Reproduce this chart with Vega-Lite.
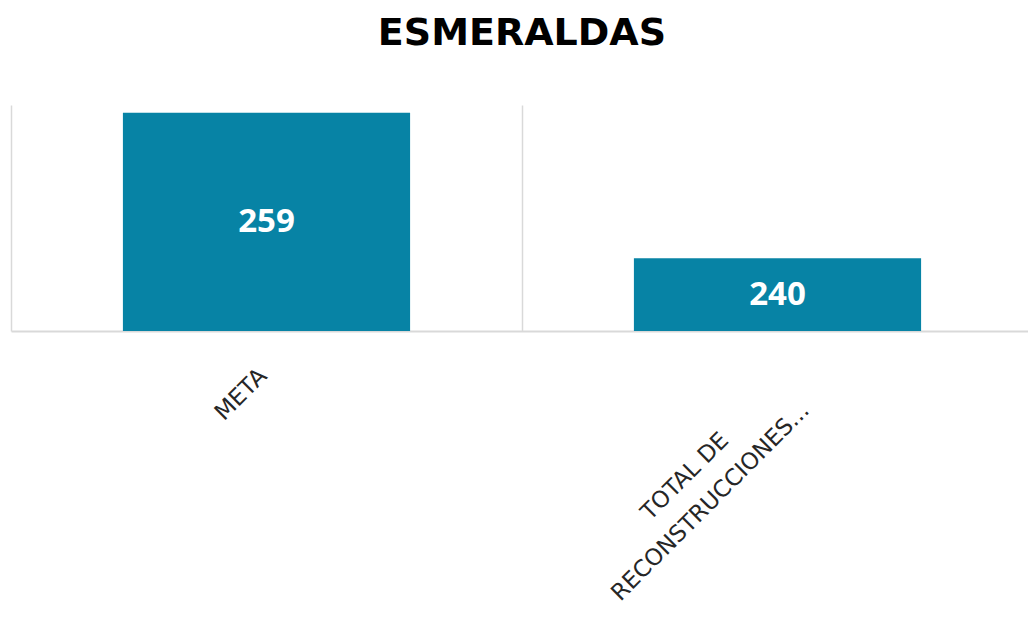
{
  "$schema": "https://vega.github.io/schema/vega-lite/v6.json",
  "width": 1022,
  "height": 226,
  "padding": {"left": 3, "top": 15, "right": 0, "bottom": 0},
  "background": "white",
  "title": {
    "text": "ESMERALDAS",
    "font": "DejaVu Sans",
    "fontSize": 38,
    "fontWeight": "bold",
    "color": "#000000",
    "anchor": "middle",
    "offset": 52
  },
  "data": {
    "values": [
      {"categoria": "META", "valor": 259},
      {"categoria": "TOTAL DE RECONSTRUCCIONES...", "valor": 240}
    ]
  },
  "encoding": {
    "x": {
      "field": "categoria",
      "type": "nominal",
      "sort": null,
      "scale": {"paddingInner": 0, "paddingOuter": 0},
      "axis": {
        "title": null,
        "labelAngle": -45,
        "labelAlign": "center",
        "labelBaseline": "middle",
        "labelExpr": "split(replace(datum.label, 'DE ', 'DE|'), '|')",
        "labelFont": "DejaVu Sans",
        "labelFontSize": 23,
        "labelColor": "#262626",
        "labelLineHeight": 36,
        "labelLimit": 0,
        "labelOffset": {"condition": {"test": "datum.value == 'META'", "value": -26}, "value": -93},
        "labelPadding": {"condition": {"test": "datum.value == 'META'", "value": 63}, "value": 145},
        "ticks": false,
        "tickBand": "extent",
        "domainColor": "#d9d9d9",
        "domainWidth": 2,
        "grid": true,
        "gridColor": "#d9d9d9",
        "gridWidth": 1.5
      }
    }
  },
  "layer": [
    {
      "mark": {"type": "bar", "color": "#0783A5", "width": {"band": 0.562}},
      "encoding": {
        "y": {
          "field": "valor",
          "type": "quantitative",
          "scale": {"domain": [230.5, 260], "zero": false},
          "axis": null
        },
        "y2": {"datum": 230.5}
      }
    },
    {
      "mark": {
        "type": "text",
        "color": "white",
        "font": "Open Sans",
        "fontSize": 33,
        "fontWeight": "bold",
        "baseline": "middle",
        "align": "center"
      },
      "encoding": {
        "y": {
          "field": "valor",
          "type": "quantitative",
          "scale": {"domain": [230.5, 289.5], "zero": false},
          "axis": null
        },
        "text": {"field": "valor", "type": "quantitative"}
      }
    }
  ],
  "resolve": {"scale": {"y": "independent"}},
  "config": {"view": {"stroke": null}}
}
